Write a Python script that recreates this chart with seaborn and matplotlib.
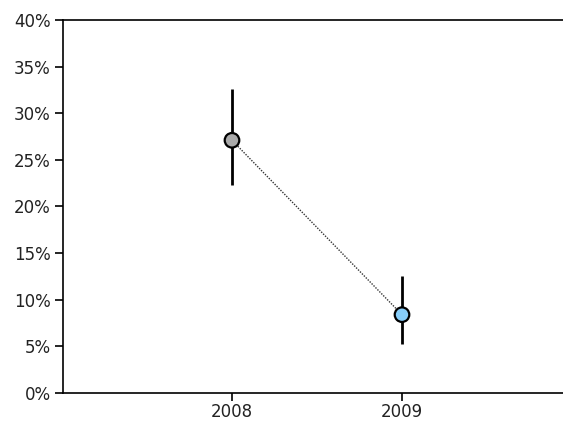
import numpy as np
import pandas as pd
import matplotlib
matplotlib.use("Agg")
import matplotlib.pyplot as plt
import seaborn as sns
from matplotlib.ticker import PercentFormatter

# values
years = ["2008", "2009"]
rates = [27.1, 8.4]
err_low = [22.3, 5.3]
err_high = [32.6, 12.6]
point_colors = ["#aaaaaa", "#87cefa"]

sns.set_style("white")
plt.rcParams["font.family"] = ["DejaVu Sans"]

df = pd.DataFrame({"year": years, "rate": rates})
df["pos"] = np.arange(len(years))

fig = plt.figure(figsize=(5.63, 4.21), dpi=100)
ax = fig.add_axes([63 / 563, 28 / 421, 500 / 563, 373 / 421])

# dotted connector
sns.lineplot(data=df, x="pos", y="rate", ax=ax, color="#333333",
             linestyle=(0, (1, 1)), linewidth=1.0, zorder=1)

# error bars
lo = np.array(rates) - np.array(err_low)
hi = np.array(err_high) - np.array(rates)
ax.errorbar(df["pos"], df["rate"], yerr=[lo, hi], fmt="none",
            ecolor="black", elinewidth=2, capsize=0, zorder=2)

sns.scatterplot(data=df, x="pos", y="rate", hue="year", palette=point_colors,
                s=110, edgecolor="black", linewidth=1.6, legend=False,
                ax=ax, zorder=3)

ax.set_xlim(-0.994, 1.947)
ax.set_ylim(0, 40)
ax.set_xticks(df["pos"])
ax.set_xticklabels(years)
ax.set_yticks(np.arange(0, 41, 5))
ax.yaxis.set_major_formatter(PercentFormatter(decimals=0))
ax.set_xlabel("")
ax.set_ylabel("")

for side in ["left", "bottom", "top"]:
    ax.spines[side].set_visible(True)
    ax.spines[side].set_color("black")
    ax.spines[side].set_linewidth(1.2)
ax.spines["right"].set_visible(False)

ax.tick_params(axis="both", which="major", direction="out", length=6,
               width=1.2, color="black", labelsize=12, labelcolor="#222222",
               left=True, bottom=True, pad=3)
ax.tick_params(axis="x", pad=1)

fig.savefig("out.png", dpi=100)
